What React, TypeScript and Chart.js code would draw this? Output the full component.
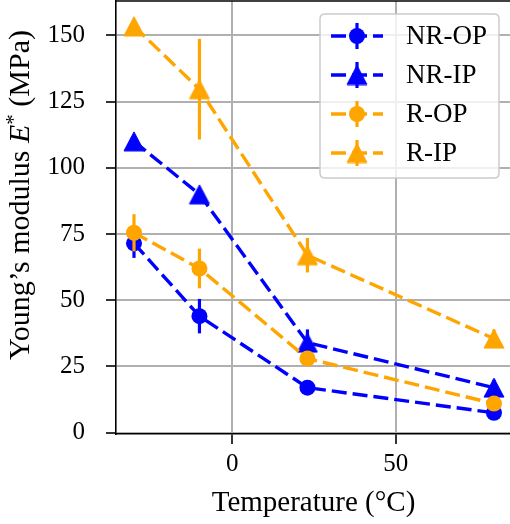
import React, { useEffect, useRef } from "react";
import { Chart, registerables } from "chart.js";

Chart.register(...registerables);

// ---- data ----
const temperatures = [-30, -10, 23, 80];
const seriesLabels = ["NR-OP", "NR-IP", "R-OP", "R-IP"];
const nrOP = [71.5, 44, 17, 7.5];
const nrOPErr = [5.5, 6.5, 1.5, 1.5];
const nrIP = [110, 90, 34, 17];
const nrIPErr = [2, 2, 5, 3];
const rOP = [75.5, 62, 28, 11];
const rOPErr = [7, 7.5, 2, 1.5];
const rIP = [153.5, 129.7, 67, 35.5];
const rIPErr = [2, 19, 6.5, 3.5];
const xTicks = [0, 50];
const yTicks = [0, 25, 50, 75, 100, 125, 150];

const BLUE = "#0000ff";
const ORANGE = "#ffa500";
const SERIF = "'Liberation Serif', 'DejaVu Serif', serif";

function makeTriangle(color: string) {
  const c = document.createElement("canvas");
  c.width = 22;
  c.height = 21;
  const ctx = c.getContext("2d")!;
  ctx.fillStyle = color;
  ctx.strokeStyle = color;
  ctx.lineWidth = 1;
  ctx.lineJoin = "miter";
  ctx.beginPath();
  ctx.moveTo(11, 1);
  ctx.lineTo(21, 20);
  ctx.lineTo(1, 20);
  ctx.closePath();
  ctx.fill();
  ctx.stroke();
  return c;
}

export default function App() {
  const ref = useRef<HTMLCanvasElement | null>(null);

  useEffect(() => {
    if (!ref.current) return;
    const triBlue = makeTriangle(BLUE);
    const triOrange = makeTriangle(ORANGE);

    const series = [
      { label: seriesLabels[0], vals: nrOP, err: nrOPErr, color: BLUE, style: "circle" as any, order: 3 },
      { label: seriesLabels[1], vals: nrIP, err: nrIPErr, color: BLUE, style: triBlue as any, order: 2 },
      { label: seriesLabels[2], vals: rOP, err: rOPErr, color: ORANGE, style: "circle" as any, order: 1 },
      { label: seriesLabels[3], vals: rIP, err: rIPErr, color: ORANGE, style: triOrange as any, order: 0 },
    ];

    const errorBars = {
      id: "errorBars",
      afterDatasetDraw(chart: any, args: any) {
        const s = series[args.index];
        const meta = args.meta;
        const ys = chart.scales.y;
        const ctx = chart.ctx;
        ctx.save();
        ctx.strokeStyle = s.color;
        ctx.lineWidth = 3.2;
        ctx.setLineDash([]);
        meta.data.forEach((pt: any, i: number) => {
          const top = ys.getPixelForValue(s.vals[i] + s.err[i]);
          const bot = ys.getPixelForValue(s.vals[i] - s.err[i]);
          ctx.beginPath();
          ctx.moveTo(pt.x, top);
          ctx.lineTo(pt.x, bot);
          ctx.stroke();
        });
        ctx.restore();
      },
    };

    const decorations = {
      id: "decorations",
      afterDraw(chart: any) {
        const ctx = chart.ctx;
        const ca = chart.chartArea;
        ctx.save();
        // top spine
        ctx.strokeStyle = "#000";
        ctx.lineWidth = 1.6;
        ctx.beginPath();
        ctx.moveTo(ca.left, ca.top);
        ctx.lineTo(ca.right, ca.top);
        ctx.stroke();

        // legend
        const bx = 320, by = 14, bw = 179, bh = 164, r = 5;
        ctx.beginPath();
        ctx.moveTo(bx + r, by);
        ctx.lineTo(bx + bw - r, by);
        ctx.quadraticCurveTo(bx + bw, by, bx + bw, by + r);
        ctx.lineTo(bx + bw, by + bh - r);
        ctx.quadraticCurveTo(bx + bw, by + bh, bx + bw - r, by + bh);
        ctx.lineTo(bx + r, by + bh);
        ctx.quadraticCurveTo(bx, by + bh, bx, by + bh - r);
        ctx.lineTo(bx, by + r);
        ctx.quadraticCurveTo(bx, by, bx + r, by);
        ctx.closePath();
        ctx.fillStyle = "rgba(255,255,255,0.8)";
        ctx.fill();
        ctx.strokeStyle = "#cccccc";
        ctx.lineWidth = 1.5;
        ctx.stroke();

        const rows = [36, 75, 114, 153];
        series.forEach((s, i) => {
          const yy = rows[i];
          ctx.strokeStyle = s.color;
          ctx.lineWidth = 3.4;
          ctx.setLineDash([15, 6]);
          ctx.beginPath();
          ctx.moveTo(331, yy);
          ctx.lineTo(383, yy);
          ctx.stroke();
          ctx.setLineDash([]);
          ctx.lineWidth = 3.2;
          ctx.beginPath();
          ctx.moveTo(357, yy - 13);
          ctx.lineTo(357, yy + 13);
          ctx.stroke();
          if (s.style === "circle") {
            ctx.fillStyle = s.color;
            ctx.beginPath();
            ctx.arc(357, yy, 8, 0, Math.PI * 2);
            ctx.fill();
          } else {
            const img = s.style as HTMLCanvasElement;
            ctx.drawImage(img, 357 - img.width / 2, yy - img.height / 2);
          }
          ctx.fillStyle = "#000";
          ctx.font = `27px ${SERIF}`;
          ctx.textAlign = "left";
          ctx.textBaseline = "middle";
          ctx.fillText(s.label, 406, yy + 1);
        });

        // x title
        ctx.fillStyle = "#000";
        ctx.font = `29px ${SERIF}`;
        ctx.textAlign = "center";
        ctx.textBaseline = "alphabetic";
        ctx.fillText("Temperature (°C)", 313.5, 510.5);

        // y title with italic E and superscript star
        const parts = [
          { t: "Young’s modulus ", f: `30px ${SERIF}`, dy: 0 },
          { t: "E", f: `italic 30px ${SERIF}`, dy: 0 },
          { t: "*", f: `21px ${SERIF}`, dy: -9 },
          { t: " (MPa)", f: `30px ${SERIF}`, dy: 0 },
        ];
        let total = 0;
        const widths = parts.map((p) => {
          ctx.font = p.f;
          const w = ctx.measureText(p.t).width;
          total += w;
          return w;
        });
        ctx.translate(29, 195);
        ctx.rotate(-Math.PI / 2);
        ctx.textAlign = "left";
        let x = -total / 2;
        parts.forEach((p, i) => {
          ctx.font = p.f;
          ctx.fillText(p.t, x, p.dy);
          x += widths[i];
        });
        ctx.restore();
      },
    };

    const zeroPad = (scale: any) => {
      scale.paddingTop = 0;
      scale.paddingBottom = 0;
      scale.paddingLeft = 0;
      scale.paddingRight = 0;
    };

    const chart = new Chart(ref.current, {
      type: "line",
      data: {
        datasets: series.map((s) => ({
          label: s.label,
          data: temperatures.map((t, i) => ({ x: t, y: s.vals[i] })),
          borderColor: s.color,
          backgroundColor: s.color,
          borderWidth: 3.4,
          borderDash: [15, 6],
          pointStyle: s.style,
          pointRadius: 8,
          pointHoverRadius: 8,
          pointBorderWidth: 0,
          pointBackgroundColor: s.color,
          fill: false,
          tension: 0,
          order: s.order,
        })),
      },
      options: {
        animation: false,
        responsive: true,
        maintainAspectRatio: false,
        events: [],
        layout: { autoPadding: false, padding: { top: 1, right: 0, left: 0, bottom: 0 } },
        plugins: {
          legend: { display: false },
          tooltip: { enabled: false },
          title: { display: false },
        },
        scales: {
          x: {
            type: "linear",
            min: -35.5,
            max: 84.9,
            afterFit(scale: any) {
              scale.height = 90;
              zeroPad(scale);
            },
            afterBuildTicks(scale: any) {
              scale.ticks = xTicks.map((v) => ({ value: v }));
            },
            grid: {
              color: "#b0b0b0",
              lineWidth: 2,
              drawTicks: true,
              tickLength: 10,
              tickColor: "#000",
              tickWidth: 1.6,
            },
            border: { display: true, color: "#000", width: 1.6 },
            ticks: {
              color: "#000",
              font: { family: SERIF, size: 25 },
              padding: 5,
              maxRotation: 0,
              autoSkip: false,
            },
          },
          y: {
            type: "linear",
            min: -0.5,
            max: 163,
            afterFit(scale: any) {
              scale.width = 116;
              zeroPad(scale);
            },
            afterBuildTicks(scale: any) {
              scale.ticks = yTicks.map((v) => ({ value: v }));
            },
            grid: {
              color: "#b0b0b0",
              lineWidth: 2,
              drawTicks: true,
              tickLength: 10,
              tickColor: "#000",
              tickWidth: 1.6,
            },
            border: { display: true, color: "#000", width: 1.6 },
            ticks: {
              color: "#000",
              font: { family: SERIF, size: 25 },
              padding: 21,
              autoSkip: false,
            },
          },
        },
      },
      plugins: [errorBars, decorations],
    });

    return () => chart.destroy();
  }, []);

  return (
    <div style={{ position: "fixed", left: 0, top: 0, width: 510, height: 524, background: "#fff" }}>
      <canvas ref={ref} />
    </div>
  );
}
